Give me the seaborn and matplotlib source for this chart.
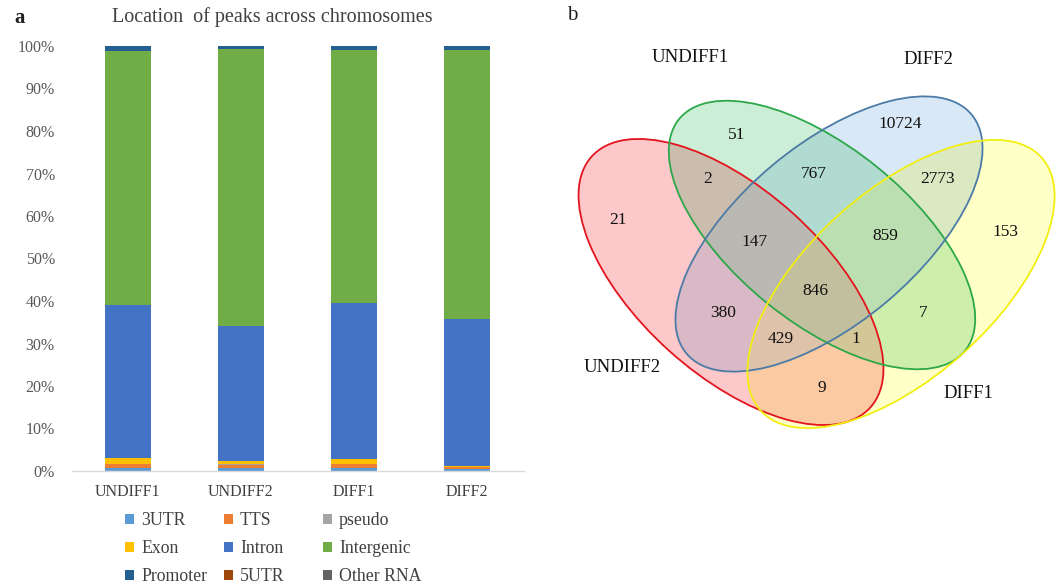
import numpy as np
import pandas as pd
import matplotlib
matplotlib.use("Agg")
import matplotlib.pyplot as plt
from matplotlib.colors import to_rgb
from matplotlib.patches import Ellipse, Patch
from matplotlib.ticker import PercentFormatter
import seaborn as sns

# ---- genomic annotation of peaks (percent of peaks per sample) ----
samples = ["UNDIFF1", "UNDIFF2", "DIFF1", "DIFF2"]
regions = ["3UTR", "TTS", "pseudo", "Exon", "Intron", "Intergenic",
           "Promoter", "5UTR", "Other RNA"]
utr3 = [0.8, 0.7, 0.8, 0.4]
tts = [0.9, 0.8, 0.9, 0.5]
pseudo = [0.05, 0.05, 0.05, 0.02]
exon = [1.2, 0.9, 1.15, 0.35]
intron = [36.0, 31.7, 36.6, 34.5]
intergenic = [59.9, 65.2, 59.5, 63.3]
promoter = [1.1, 0.6, 0.95, 0.9]
utr5 = [0.02, 0.02, 0.02, 0.02]
other_rna = [0.03, 0.03, 0.03, 0.01]
region_colors = ["#5B9BD5", "#ED7D31", "#A5A5A5", "#FFC000", "#4472C4",
                 "#70AD47", "#255E91", "#9E480E", "#636363"]

# ---- peak overlap counts between the four samples ----
venn_sets = ["UNDIFF2", "UNDIFF1", "DIFF2", "DIFF1"]
venn_regions = ["UNDIFF1", "DIFF2", "UNDIFF1&UNDIFF2", "UNDIFF1&DIFF2",
                "DIFF2&DIFF1", "UNDIFF2", "UNDIFF2&UNDIFF1&DIFF2",
                "UNDIFF1&DIFF2&DIFF1", "DIFF1", "ALL", "UNDIFF2&DIFF2",
                "UNDIFF1&DIFF1", "UNDIFF2&DIFF2&DIFF1",
                "UNDIFF2&UNDIFF1&DIFF1", "UNDIFF2&DIFF1"]
venn_counts = [51, 10724, 2, 767, 2773, 21, 147, 859, 153, 846, 380, 7,
               429, 1, 9]

sns.set_theme(style="white")
plt.rcParams["font.family"] = ["Liberation Serif", "DejaVu Serif"]

fig = plt.figure(figsize=(10.6, 5.83), dpi=100)

# ================= panel a: 100% stacked bars =================
ax = fig.add_axes([71.5 / 1060, 112 / 583, 452 / 1060, 425 / 583])

table = pd.DataFrame(
    [utr3, tts, pseudo, exon, intron, intergenic, promoter, utr5, other_rna],
    index=regions, columns=samples)
table = table / table.sum(axis=0)
cum = table.cumsum(axis=0)

# draw cumulative tops from the highest layer down so lower layers sit on top
for region, color in reversed(list(zip(regions, region_colors))):
    layer = pd.DataFrame({"sample": samples, "top": cum.loc[region].values})
    sns.barplot(data=layer, x="sample", y="top", order=samples, color=color,
                saturation=1, width=0.4, errorbar=None, linewidth=0, ax=ax)

ax.set_xlim(-0.5, 3.5)
ax.set_ylim(0, 1)
ax.set_yticks(np.arange(0, 1.01, 0.1))
ax.yaxis.set_major_formatter(PercentFormatter(1, decimals=0))
ax.set_xlabel("")
ax.set_ylabel("")
for side in ["left", "top", "right"]:
    ax.spines[side].set_visible(False)
ax.spines["bottom"].set_color("#D9D9D9")
ax.spines["bottom"].set_linewidth(1.0)
ax.tick_params(axis="y", length=0, pad=12, labelsize=11.5, labelcolor="#595959")
ax.tick_params(axis="x", length=0, pad=9, labelsize=11.5, labelcolor="#404040")

fig.text(272 / 1060, 1 - 17 / 583, "Location  of peaks across chromosomes",
         ha="center", va="center", fontsize=14.5, color="#404040")
fig.text(14 / 1060, 1 - 18 / 583, "a", ha="left", va="center", fontsize=15,
         fontweight="bold", color="#202020")

# legend laid out in three columns, filled row by row
col_x = [125 / 1060, 224 / 1060, 323 / 1060]
for c in range(3):
    handles = [Patch(facecolor=region_colors[r * 3 + c], edgecolor="none",
                     label=regions[r * 3 + c]) for r in range(3)]
    fig.legend(handles=handles, loc="upper left",
               bbox_to_anchor=(col_x[c], 1 - 512 / 583), ncol=1,
               frameon=False, fontsize=12.8, handlelength=0.5,
               handleheight=0.5, handletextpad=0.4, labelspacing=0.62,
               borderpad=0, borderaxespad=0, labelcolor="#404040")

# ================= panel b: four-set Venn diagram =================
vx = fig.add_axes([560 / 1060, 0, 500 / 1060, 1])
vx.set_xlim(560, 1060)
vx.set_ylim(583, 0)
vx.set_axis_off()

# ellipse geometry (centre, full width, full height, angle) per set
shapes = {
    "UNDIFF2": ((731, 282), 375, 185, 42),
    "UNDIFF1": ((822, 235), 368, 175, 39),
    "DIFF2": ((829, 234), 372, 178, -40),
    "DIFF1": ((901, 284), 378, 186, -42),
}
fills = {"UNDIFF2": "#FCC8CA", "UNDIFF1": "#CCEED6",
         "DIFF2": "#DAE8F6", "DIFF1": "#FFFFC8"}
edges = {"UNDIFF2": "#E3141E", "UNDIFF1": "#2CA84A",
         "DIFF2": "#4C7BA6", "DIFF1": "#F2EE10"}

# translucent fills combine multiplicatively where the sets overlap
res = 3
gx = np.linspace(560, 1060, 500 * res)
gy = np.linspace(0, 583, 583 * res)
X, Y = np.meshgrid(gx, gy)
log_rgb = np.zeros(X.shape + (3,))
n_in = np.zeros(X.shape)
for name in venn_sets:
    (cx, cy), w, h, ang = shapes[name]
    t = np.deg2rad(ang)
    u = (X - cx) * np.cos(t) + (Y - cy) * np.sin(t)
    v = -(X - cx) * np.sin(t) + (Y - cy) * np.cos(t)
    inside = (u / (w / 2)) ** 2 + (v / (h / 2)) ** 2 <= 1
    log_rgb[inside] += np.log(np.array(to_rgb(fills[name])))
    n_in += inside
soften = np.array([1.0, 1.0, 0.95, 0.8, 0.7])[n_in.astype(int)]
img = np.exp(log_rgb * soften[..., None])
vx.imshow(img, extent=(560, 1060, 583, 0), origin="upper",
          interpolation="antialiased", zorder=1, aspect="auto")
vx.set_xlim(560, 1060)
vx.set_ylim(583, 0)

for name in venn_sets:
    (cx, cy), w, h, ang = shapes[name]
    vx.add_patch(Ellipse((cx, cy), w, h, angle=ang, facecolor="none",
                         edgecolor=edges[name], linewidth=1.3, zorder=2))

count_pos = {
    "UNDIFF1": (737, 135), "DIFF2": (900, 124),
    "UNDIFF1&UNDIFF2": (708, 179), "UNDIFF1&DIFF2": (814, 174),
    "DIFF2&DIFF1": (938, 179), "UNDIFF2": (618, 220),
    "UNDIFF2&UNDIFF1&DIFF2": (755, 242), "UNDIFF1&DIFF2&DIFF1": (885, 236),
    "DIFF1": (1005, 232), "ALL": (815, 291), "UNDIFF2&DIFF2": (723, 313),
    "UNDIFF1&DIFF1": (923, 313), "UNDIFF2&DIFF2&DIFF1": (781, 339),
    "UNDIFF2&UNDIFF1&DIFF1": (856, 339), "UNDIFF2&DIFF1": (822, 388),
}
for region, count in zip(venn_regions, venn_counts):
    x, y = count_pos[region]
    vx.text(x, y, f"{count}", ha="center", va="center", fontsize=12.5,
            color="#111111", zorder=3)

set_label_pos = {"UNDIFF1": (690, 57), "DIFF2": (928, 60),
                 "UNDIFF2": (622, 367), "DIFF1": (968, 394)}
for name in venn_sets:
    x, y = set_label_pos[name]
    vx.text(x, y, name, ha="center", va="center", fontsize=13.5,
            color="#111111", zorder=3)

fig.text(572 / 1060, 1 - 16 / 583, "b", ha="center", va="center",
         fontsize=15, color="#202020")

fig.savefig("out.png", dpi=100)
